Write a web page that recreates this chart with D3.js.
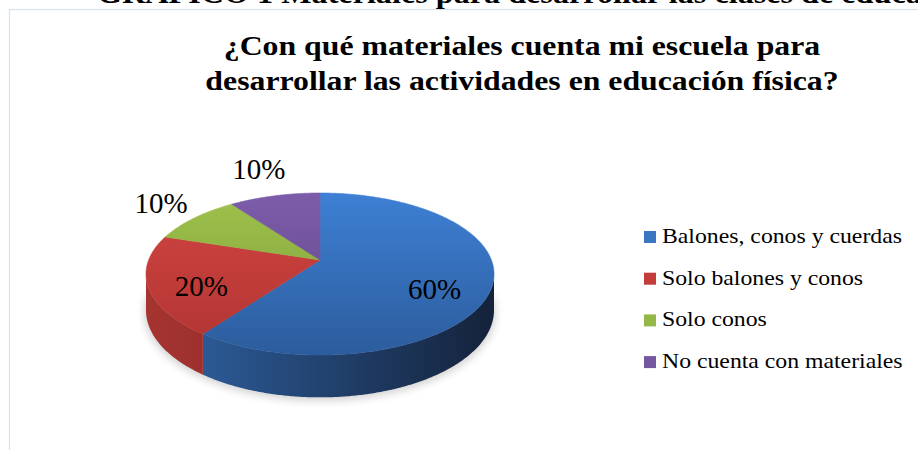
<!DOCTYPE html>
<html>
<head>
<meta charset="utf-8">
<script src="https://cdn.jsdelivr.net/npm/d3@7"></script>
<style>
  body { margin: 0; background: #ffffff; }
  svg { display: block; }
</style>
</head>
<body>
<svg id="chart" width="918" height="450"></svg>
<script>
// data
var categories = ["Balones, conos y cuerdas", "Solo balones y conos", "Solo conos", "No cuenta con materiales"];
var values = [60, 20, 10, 10];
var topColors = [["#3e80d4", "#2c5c9c"], ["#d24542", "#b03431"], ["#9fc24c", "#7b9b37"], ["#7d5daa", "#5e4184"]];
var sideColors = [["#3064a6", "#14223a"], ["#a63431", "#6e1e1c"], ["#7b9b37", "#56702a"], ["#5e4184", "#3f2b5a"]];
var legendColors = ["#3a76c4", "#c53d3a", "#93b847", "#7556a0"];
var titleLines = ["¿Con qué materiales cuenta mi escuela para", "desarrollar las actividades en educación física?"];
var heading = "GRÁFICO 1 Materiales para desarrollar las clases de educación física";

var FONT = "'Liberation Serif', 'Times New Roman', Times, serif";

function draw() {
    var svg = d3.select("#chart");
    var defs = svg.append("defs");

    // pie projection (perspective tilt like the excel 3d pie)
    var cx = 320, apexY = 260, K = 171.4, A = 78.6, c = -0.173, D = 35;
    function proj(a, r, z) {
        var u = r * Math.sin(a), v = -r * Math.cos(a);
        var den = 1 + c * v;
        return [cx + K * u / den, apexY + A * v / den + z * D / den];
    }

    var pie = d3.pie().sort(null).value(function (d) { return d; });
    var arcs = pie(values);
    var deg = Math.PI / 180;
    var step = 0.5 * deg;
    var yTop = proj(0, 1, 0)[1], yBot = proj(Math.PI, 1, 0)[1];
    var xL = proj(260 * deg, 1, 0)[0], xR = proj(100 * deg, 1, 0)[0];

    arcs.forEach(function (d, i) {
        var g1 = defs.append("linearGradient").attr("id", "top" + i)
            .attr("gradientUnits", "userSpaceOnUse")
            .attr("x1", 0).attr("x2", 0).attr("y1", yTop).attr("y2", yBot);
        g1.append("stop").attr("offset", 0).attr("stop-color", topColors[i][0]);
        g1.append("stop").attr("offset", 1).attr("stop-color", topColors[i][1]);
        var g2 = defs.append("linearGradient").attr("id", "side" + i)
            .attr("gradientUnits", "userSpaceOnUse")
            .attr("x1", xL).attr("x2", xR).attr("y1", 0).attr("y2", 0);
        g2.append("stop").attr("offset", 0).attr("stop-color", sideColors[i][0]);
        g2.append("stop").attr("offset", 1).attr("stop-color", sideColors[i][1]);
    });

    var blur = defs.append("filter").attr("id", "shadow")
        .attr("x", "-20%").attr("y", "-50%").attr("width", "140%").attr("height", "200%");
    blur.append("feGaussianBlur").attr("stdDeviation", 4);

    // border of the chart area
    svg.append("rect")
        .attr("x", 9.5).attr("y", 9.5).attr("width", 930).attr("height", 460)
        .attr("fill", "#ffffff").attr("stroke", "#d6e1ef").attr("stroke-width", 1.2);

    // heading cut at the top of the page (the picture is a bit stretched sideways)
    svg.append("text")
        .attr("transform", "translate(97,3) scale(1.13,1)")
        .style("font-family", FONT)
        .style("font-weight", "bold").style("font-size", "28.5px")
        .text(heading);

    svg.selectAll(".title")
        .data(titleLines)
        .enter()
        .append("text")
        .attr("class", "title")
        .attr("transform", function (d, i) { return "translate(522," + (55 + i * 35) + ") scale(1.135,1)"; })
        .attr("text-anchor", "middle")
        .style("font-family", FONT)
        .style("font-weight", "bold").style("font-size", "28px")
        .text(function (d) { return d; });

    // soft shadow under the pie
    var shadowPts = d3.range(90 * deg, 270 * deg + step, step).map(function (a) {
        var p = proj(a, 1.01, 1); return [p[0], p[1] + 2];
    });
    svg.append("path")
        .attr("d", d3.line()(shadowPts) + "Z")
        .attr("fill", "#000").attr("opacity", 0.18)
        .attr("filter", "url(#shadow)");

    // side walls (front half only)
    var g = svg.append("g");
    arcs.forEach(function (d, i) {
        var a0 = Math.max(d.startAngle, 100 * deg), a1 = Math.min(d.endAngle, 260 * deg);
        if (a1 <= a0) return;
        var angs = d3.range(a0, a1, step).concat([a1]);
        var pts = angs.map(function (a) { return proj(a, 1, 0); })
            .concat(angs.slice().reverse().map(function (a) { return proj(a, 1, 1); }));
        g.append("path")
            .attr("d", d3.line()(pts) + "Z")
            .attr("fill", "url(#side" + i + ")");
    });

    // top faces
    arcs.forEach(function (d, i) {
        var angs = d3.range(d.startAngle, d.endAngle, step).concat([d.endAngle]);
        var pts = [proj(0, 0, 0)].concat(angs.map(function (a) { return proj(a, 1, 0); }));
        g.append("path")
            .attr("d", d3.line()(pts) + "Z")
            .attr("fill", "url(#top" + i + ")")
            .attr("stroke", "url(#top" + i + ")").attr("stroke-width", 0.6);
    });

    // data labels: big slices inside, small ones outside
    var labelSize = 29;
    arcs.forEach(function (d, i) {
        var mid = (d.startAngle + d.endAngle) / 2;
        var txt = values[i] + "%";
        var x, y;
        if (values[i] >= 20) {
            var p = proj(mid, 0.7, 0);
            x = p[0]; y = p[1] + 8;
            if (p[0] > cx) { x -= 4; y += 3; }
        } else {
            var e = proj(mid, 1, 0);
            var dx = e[0] - cx, dy = e[1] - 275;
            var len = Math.sqrt(dx * dx + dy * dy);
            dx /= len; dy /= len;
            var t = Math.abs(dx) * 27 + Math.abs(dy) * 14 + 6;
            x = e[0] + dx * t; y = e[1] + dy * t;
        }
        svg.append("text")
            .attr("x", x).attr("y", y)
            .attr("text-anchor", "middle")
            .attr("dy", "0.35em")
            .style("font-family", FONT)
            .style("font-size", labelSize + "px")
            .text(txt);
    });

    // legend
    var legend = svg.selectAll(".legend")
        .data(categories)
        .enter()
        .append("g")
        .attr("class", "legend")
        .attr("transform", function (d, i) { return "translate(644," + (243 + i * 41.7) + ")"; });
    legend.append("rect")
        .attr("x", 0).attr("y", -12).attr("width", 12).attr("height", 12)
        .attr("fill", function (d, i) { return legendColors[i]; });
    legend.append("text")
        .attr("transform", "translate(18,0) scale(1.08,1)")
        .style("font-family", FONT)
        .style("font-size", "22px")
        .text(function (d) { return d; });
}
draw();
</script>
</body>
</html>
